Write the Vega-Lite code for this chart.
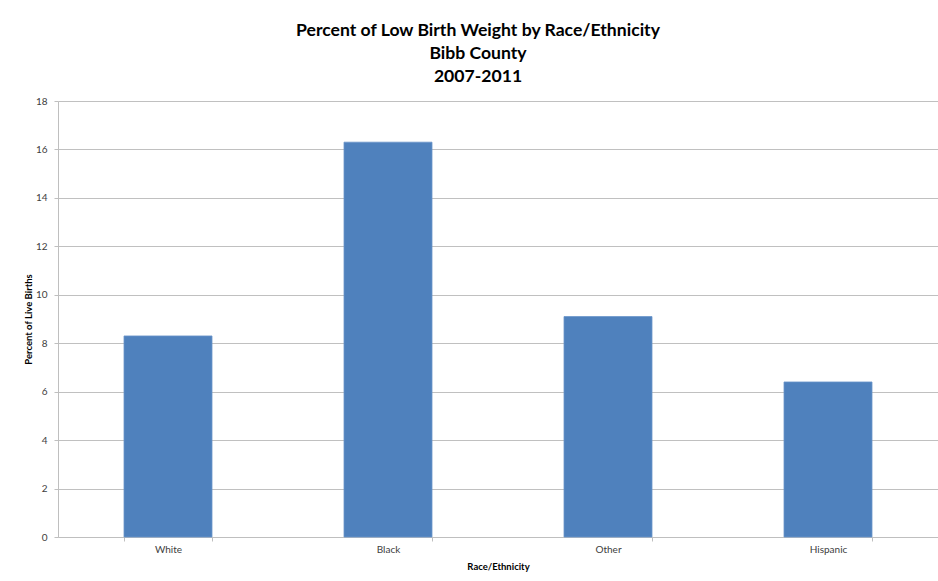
{
  "$schema": "https://vega.github.io/schema/vega-lite/v6.json",
  "autosize": {"type": "none"},
  "width": 880,
  "height": 436,
  "padding": {"left": 58, "top": 101, "right": 0, "bottom": 44},
  "background": "white",
  "title": {
    "text": ["Percent of Low Birth Weight by Race/Ethnicity", "Bibb County", "2007-2011"],
    "font": "Lato",
    "fontSize": 17.6,
    "fontWeight": "bold",
    "color": "#000000",
    "lineHeight": 23,
    "anchor": "middle",
    "dx": -20,
    "offset": 10
  },
  "data": {
    "values": [
      {"group": "White", "pct": 8.3},
      {"group": "Black", "pct": 16.3},
      {"group": "Other", "pct": 9.1},
      {"group": "Hispanic", "pct": 6.4}
    ]
  },
  "mark": {"type": "bar", "color": "#4f81bd", "stroke": "#6a94c9", "strokeWidth": 0.8},
  "encoding": {
    "x": {
      "field": "group",
      "type": "nominal",
      "sort": null,
      "scale": {"paddingInner": 0.6, "paddingOuter": 0.3},
      "axis": {
        "title": "Race/Ethnicity",
        "titleFont": "Lato",
        "titleFontSize": 9.5,
        "titleFontWeight": "bold",
        "titleColor": "#000000",
        "titlePadding": 7,
        "labelAngle": 0,
        "labelFont": "Lato",
        "labelFontSize": 10,
        "labelColor": "#404040",
        "labelPadding": 3,
        "tickBand": "extent",
        "tickSize": 4,
        "tickColor": "#bfbfbf",
        "domainColor": "#bfbfbf",
        "grid": false
      }
    },
    "y": {
      "field": "pct",
      "type": "quantitative",
      "scale": {"domain": [0, 18], "nice": false},
      "axis": {
        "title": "Percent of Live Births",
        "titleFont": "Lato",
        "titleFontSize": 9.5,
        "titleFontWeight": "bold",
        "titleColor": "#000000",
        "titlePadding": 2,
        "values": [0, 2, 4, 6, 8, 10, 12, 14, 16, 18],
        "labelFont": "Lato",
        "labelFontSize": 10,
        "labelColor": "#404040",
        "labelPadding": 7,
        "tickSize": 4,
        "tickColor": "#bfbfbf",
        "domainColor": "#bfbfbf",
        "gridColor": "#c0c0c0",
        "gridWidth": 1
      }
    }
  },
  "config": {
    "view": {"stroke": null}
  }
}
